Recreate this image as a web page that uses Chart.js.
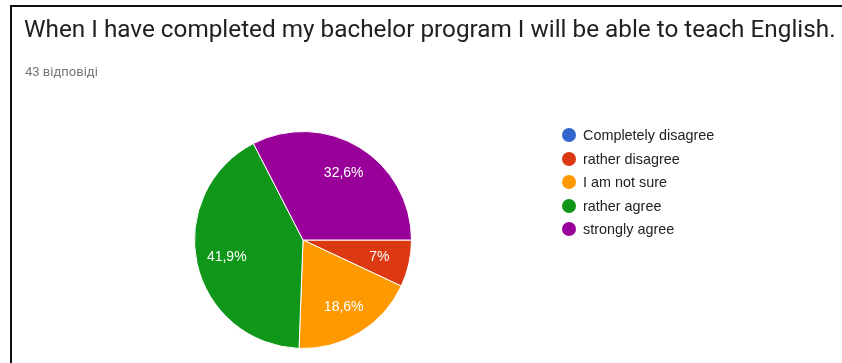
<!DOCTYPE html>
<html>
<head>
<meta charset="utf-8">
<script src="https://cdn.jsdelivr.net/npm/chart.js@4/dist/chart.umd.min.js"></script>
<style>
    body { margin: 0; background: #fff; }
    #wrap { position: relative; width: 842px; height: 363px; overflow: hidden; }
    #frameTop { position: absolute; left: 10px; top: 5px; width: 832px; height: 2px; background: #111; }
    #frameLeft { position: absolute; left: 10px; top: 5px; width: 2px; height: 358px; background: #111; }
    #title { position: absolute; left: 24px; top: 17px; font: 24.3px Roboto, sans-serif; line-height: 1; color: #202124; white-space: nowrap; }
    #subtitle { position: absolute; left: 25px; top: 65px; font: 13px Roboto, sans-serif; line-height: 1; color: #777; white-space: nowrap; }
    #legend { position: absolute; left: 561px; top: 123px; }
    .item { position: absolute; left: 0; height: 24px; width: 200px; }
    .dot { position: absolute; left: 1px; top: 5px; width: 14px; height: 14px; border-radius: 50%; }
    .txt { position: absolute; left: 22px; top: 4px; font: 14.4px "Liberation Sans", Arial, sans-serif; line-height: 16px; color: #222; white-space: nowrap; }
    canvas { position: absolute; left: 0; top: 0; }
</style>
</head>
<body>
<div id="wrap">
    <canvas id="pie" width="842" height="363"></canvas>
    <div id="frameTop"></div>
    <div id="frameLeft"></div>
    <div id="title">When I have completed my bachelor program I will be able to teach English.</div>
    <div id="subtitle">43 відповіді</div>
    <div id="legend"></div>
</div>
<script>
    const labels = ['Completely disagree', 'rather disagree', 'I am not sure', 'rather agree', 'strongly agree'];
    const answers = [0, 3, 8, 18, 14];
    const colors = ['#3366cc', '#dc3912', '#ff9900', '#109618', '#990099'];

    const total = answers.reduce((a, b) => a + b, 0);

    const formatPercent = function(value){
        let p = Math.round(value / total * 1000) / 10;
        return String(p).replace('.', ',') + '%';
    };

    // percent labels sit at ~72% of the radius, on each slice's middle angle
    const sliceLabels = {
        id: 'sliceLabels',
        afterDatasetsDraw(chart){
            const ctx = chart.ctx;
            const meta = chart.getDatasetMeta(0);
            ctx.save();
            ctx.fillStyle = '#fff';
            ctx.font = '14px "Liberation Sans", Arial, sans-serif';
            ctx.textAlign = 'center';
            ctx.textBaseline = 'middle';
            meta.data.forEach((arc, i) => {
                if(!answers[i]){
                    return;
                }
                const p = arc.getProps(['x', 'y', 'startAngle', 'endAngle', 'outerRadius'], true);
                const mid = (p.startAngle + p.endAngle) / 2;
                const r = p.outerRadius * 0.72;
                ctx.fillText(formatPercent(answers[i]), p.x + Math.cos(mid) * r, p.y + Math.sin(mid) * r);
            });
            ctx.restore();
        }
    };

    const legend = document.getElementById('legend');
    labels.forEach((label, i) => {
        const item = document.createElement('div');
        item.className = 'item';
        item.style.top = (i * 23.5) + 'px';
        item.innerHTML = '<span class="dot" style="background:' + colors[i] + '"></span><span class="txt">' + label + '</span>';
        legend.appendChild(item);
    });

    new Chart(document.getElementById('pie'), {
        type: 'pie',
        data: {
            labels: labels,
            datasets: [{
                data: answers,
                backgroundColor: colors,
                borderColor: '#fff',
                borderWidth: 1
            }]
        },
        options: {
            responsive: false,
            animation: false,
            rotation: 90,
            layout: {
                padding: { left: 194, right: 430, top: 131, bottom: 14 }
            },
            plugins: {
                legend: { display: false },
                tooltip: { enabled: false }
            }
        },
        plugins: [sliceLabels]
    });
</script>
</body>
</html>
